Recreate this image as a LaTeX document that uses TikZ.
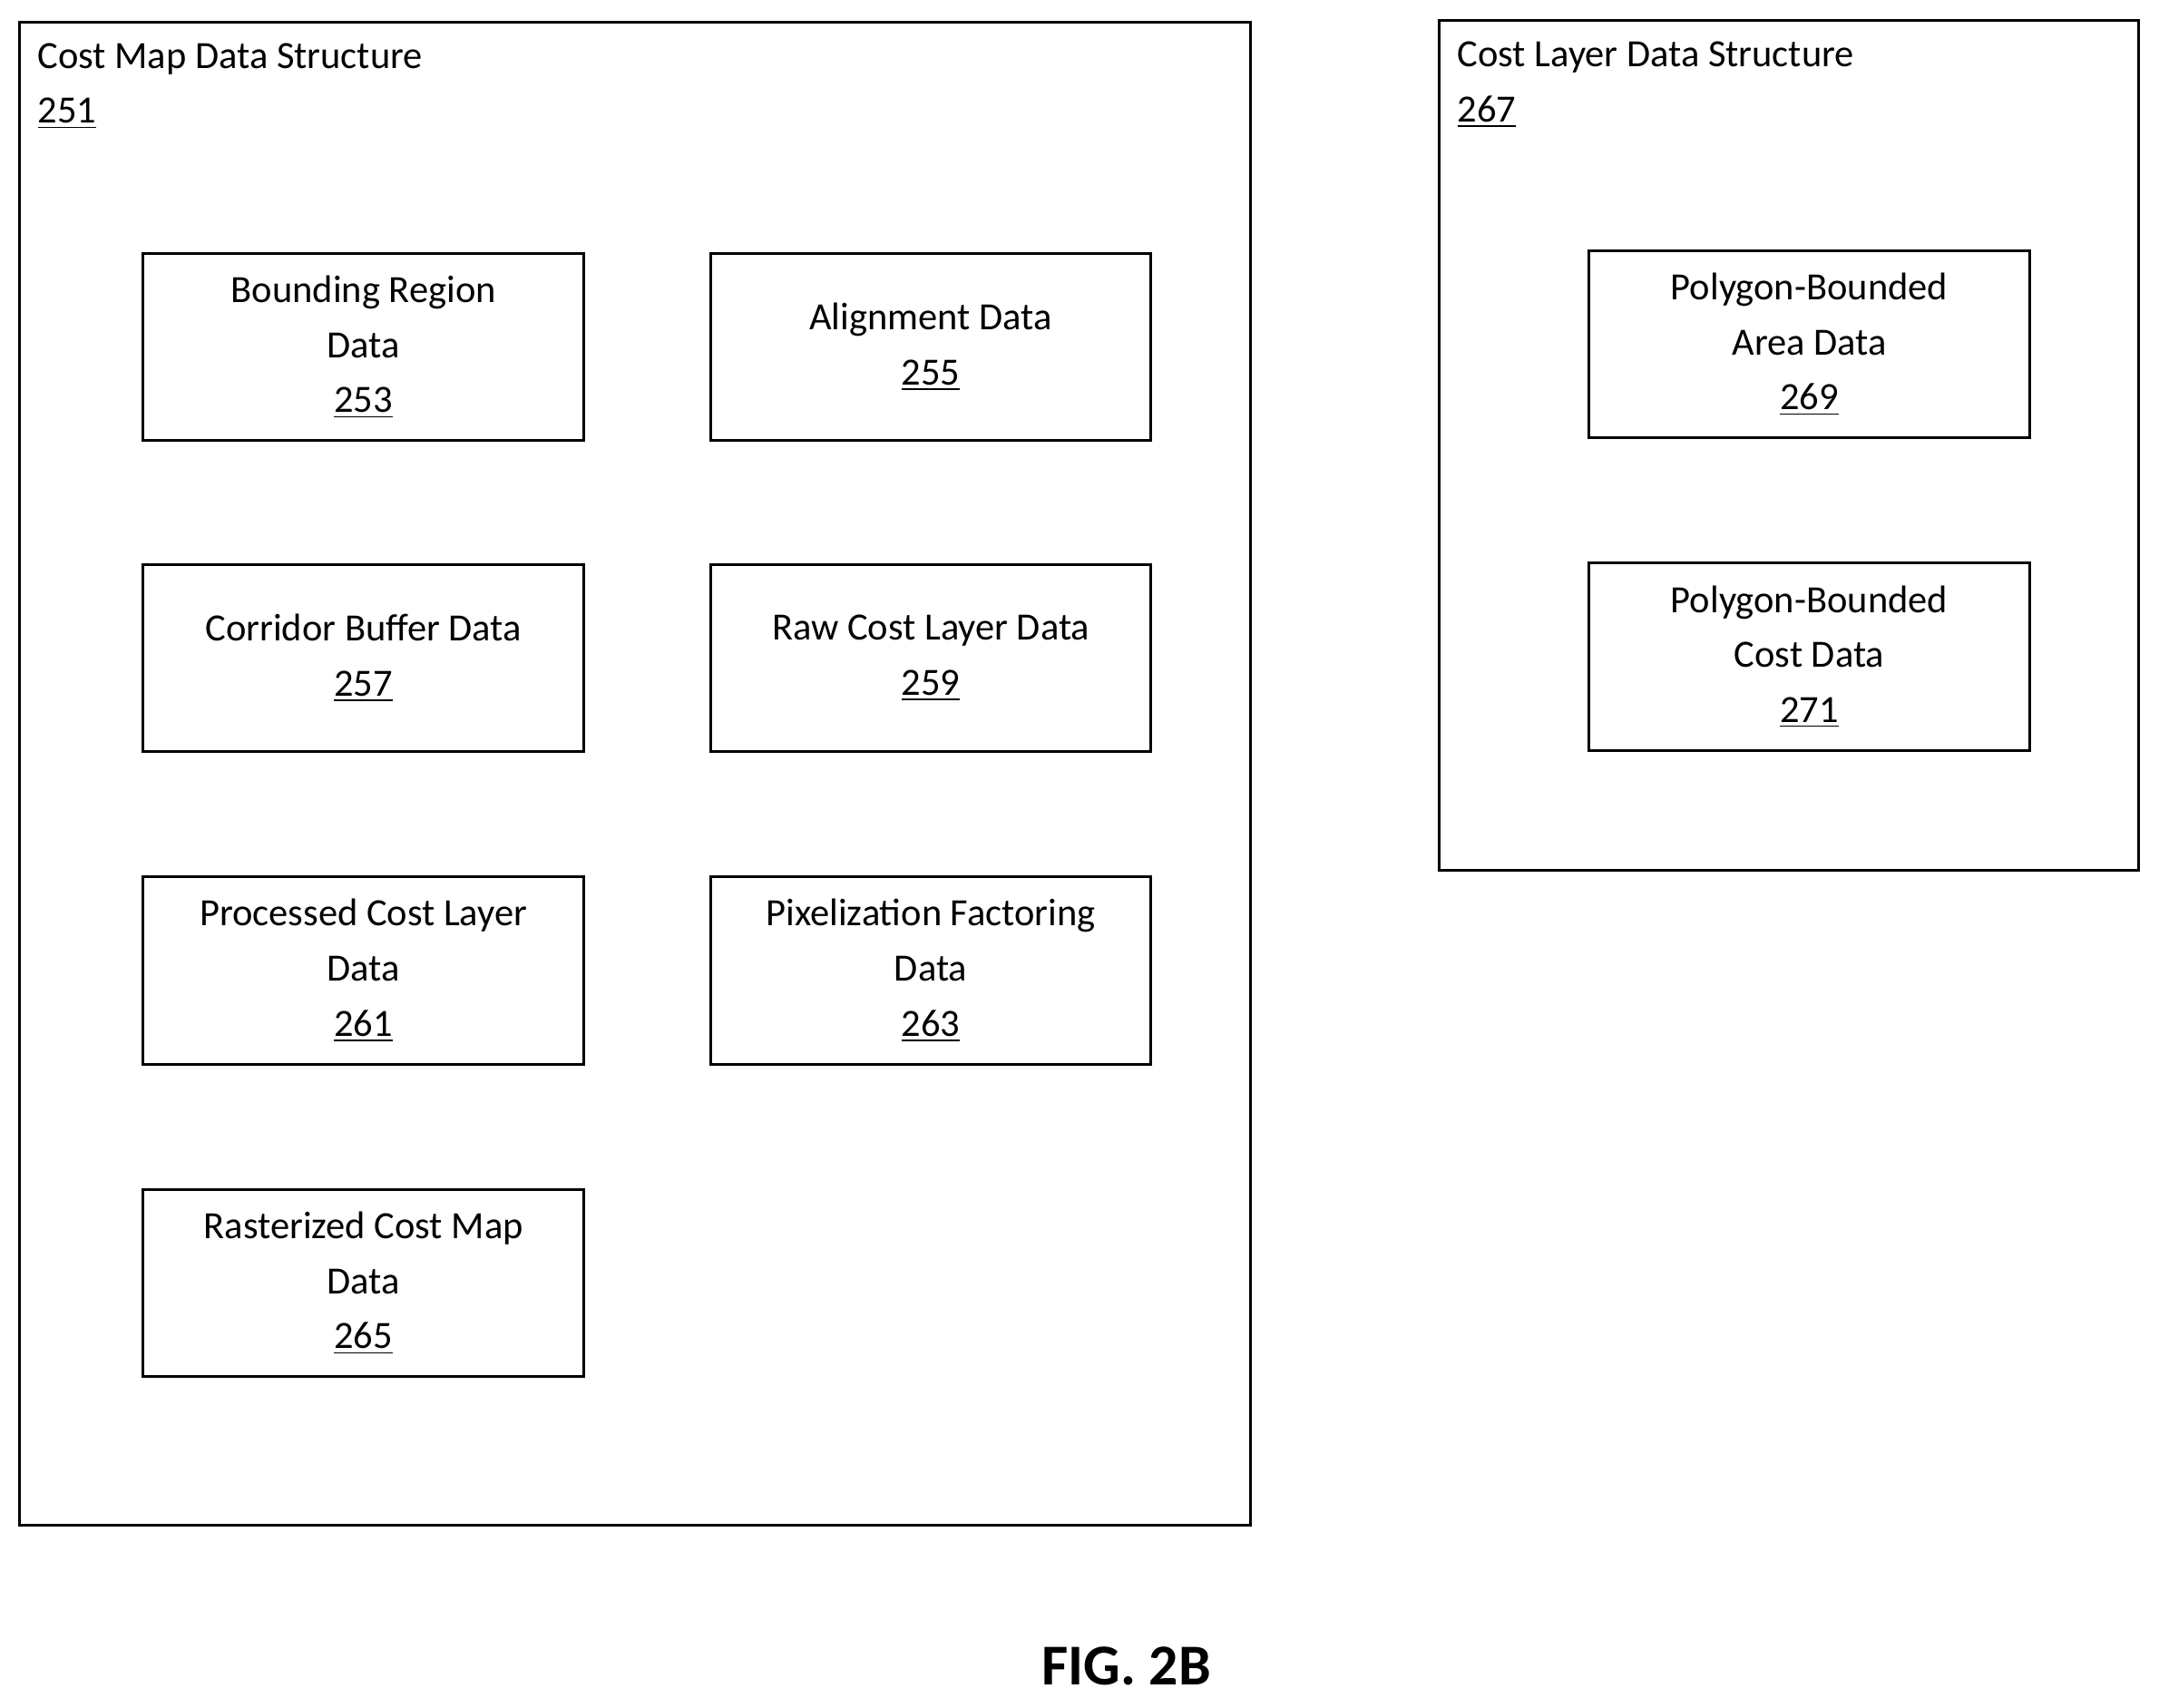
\documentclass[tikz,border=0pt]{standalone}
\usepackage{fontspec}
\setmainfont{Carlito}
\usetikzlibrary{positioning}
\tikzset{
  item/.style={draw=black, line width=1pt, minimum width=160pt, minimum height=68pt,
    align=center, font=\fontsize{14}{20}\selectfont, inner sep=2pt},
  frame/.style={draw=black, line width=1pt},
  title/.style={anchor=north west, align=left, font=\fontsize{14}{20}\selectfont, inner sep=0pt}
}
\begin{document}
\begin{tikzpicture}[x=0.5pt,y=-0.5pt]
  \useasboundingbox (0,0) rectangle (1568,1240);
  % cost map frame
  \draw[frame] (14,16) rectangle (908,1108);
  \node[title] (costmap) at (27,31) {Cost Map Data Structure\\\underline{251}};
  \node[item] (bound) at (264,252) {Bounding Region\\Data\\\underline{253}};
  \node[item] (align) at (676,252) {Alignment Data\\\underline{255}};
  \node[item] (corr) at (264,478) {Corridor Buffer Data\\\underline{257}};
  \node[item] (raw) at (676,478) {Raw Cost Layer Data\\\underline{259}};
  \node[item] (proc) at (264,705) {Processed Cost Layer\\Data\\\underline{261}};
  \node[item] (pix) at (676,705) {Pixelization Factoring\\Data\\\underline{263}};
  \node[item] (rast) at (264,932) {Rasterized Cost Map\\Data\\\underline{265}};
  % cost layer frame
  \draw[frame] (1045,15) rectangle (1553,632);
  \node[title] (costlayer) at (1058,30) {Cost Layer Data Structure\\\underline{267}};
  \node[item] (area) at (1314,250) {Polygon-Bounded\\Area Data\\\underline{269}};
  \node[item] (cost) at (1314,477) {Polygon-Bounded\\Cost Data\\\underline{271}};
  \node[font=\bfseries\fontsize{21}{24}\selectfont] (fig) at (818,1210) {FIG. 2B};
\end{tikzpicture}
\end{document}
